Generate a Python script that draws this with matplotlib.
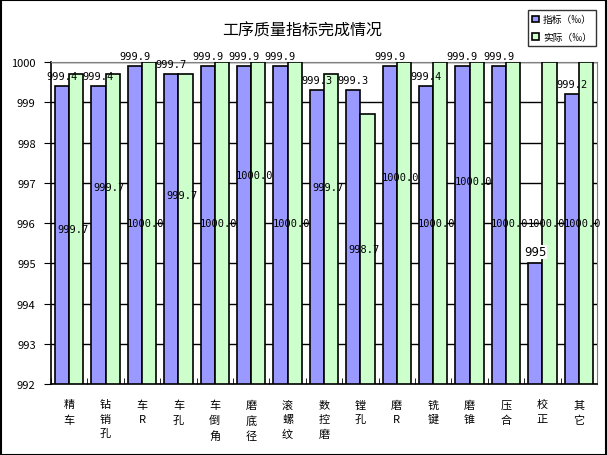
import numpy as np
import matplotlib
matplotlib.use('Agg')
import matplotlib.pyplot as plt
from matplotlib.patches import Rectangle

plt.rcParams['font.family'] = ['Noto Sans CJK SC', 'DejaVu Sans']

# 数据
categories = ['精车', '钻销孔', '车R', '车孔', '车倒角', '磨底径', '滚螺纹', '数控磨',
              '镗孔', '磨R', '铣键', '磨锥', '压合', '校正', '其它']
target = [999.4, 999.4, 999.9, 999.7, 999.9, 999.9, 999.9, 999.3,
          999.3, 999.9, 999.4, 999.9, 999.9, 995, 999.2]
actual = [999.7, 999.7, 1000.0, 999.7, 1000.0, 1000.0, 1000.0, 999.7,
          998.7, 1000.0, 1000.0, 1000.0, 1000.0, 1000.0, 1000.0]
target_labels = ['999.4', '999.4', '999.9', '999.7', '999.9', '999.9', '999.9', '999.3',
                 '999.3', '999.9', '999.4', '999.9', '999.9', '995', '999.2']
actual_labels = ['999.7', '999.7', '1000.0', '999.7', '1000.0', '1000.0', '1000.0', '999.7',
                 '998.7', '1000.0', '1000.0', '1000.0', '1000.0', '1000.0', '1000.0']
# 实际值标签的纵向位置（原图中部分标签被手动移动过）
actual_label_y = [995.85, 996.9, 996.0, 996.7, 996.0, 997.2, 996.0, 996.9,
                  995.35, 997.15, 996.0, 997.05, 996.0, 996.0, 996.0]
legend_names = ['指标（‰）', '实际（‰）']

ymin, ymax = 992, 1000
blue = '#9999FF'
green = '#CCFFCC'

fig = plt.figure(figsize=(6.07, 4.56), dpi=100)
ax = fig.add_axes([0.084, 0.1557, 0.8995, 0.7061])

x = np.arange(len(categories))
w = 0.39
b1 = ax.bar(x - w / 2, np.array(target) - ymin, w, bottom=ymin, color=blue,
            edgecolor='black', linewidth=1.2, zorder=3, label=legend_names[0])
b2 = ax.bar(x + w / 2, np.array(actual) - ymin, w, bottom=ymin, color=green,
            edgecolor='black', linewidth=1.2, zorder=3, label=legend_names[1])

ax.set_xlim(-0.5, len(categories) - 0.5)
ax.set_ylim(ymin, ymax)
ax.set_yticks(range(ymin, ymax + 1))
ax.yaxis.grid(True, color='black', linewidth=1.0, zorder=0)
ax.set_axisbelow(True)

for sp in ['top', 'right']:
    ax.spines[sp].set_color('#808080')
for sp in ['left', 'bottom']:
    ax.spines[sp].set_color('black')
    ax.spines[sp].set_linewidth(1.2)

ax.tick_params(axis='y', direction='out', length=5, labelsize=8, pad=6)
ax.set_xticks(x)
ax.set_xticklabels(['\n'.join(list(c)) for c in categories], fontsize=8, linespacing=1.55,
                   va='top')
ax.tick_params(axis='x', length=0, pad=11)
ax.set_xticks(np.arange(-0.5, len(categories)), minor=True)
ax.tick_params(axis='x', which='minor', direction='in', length=4, color='black')

mono = 'DejaVu Sans Mono'
for i in range(len(categories)):
    if target_labels[i] == '995':
        ax.text(x[i] - w / 2, target[i] + 0.12, target_labels[i], ha='center', va='bottom',
                fontsize=8.5, family='DejaVu Sans', zorder=5, clip_on=False,
                bbox=dict(facecolor='white', edgecolor='none', pad=0.5))
    else:
        ax.text(x[i] - w / 2, target[i] + 0.12, target_labels[i], ha='center', va='bottom',
                fontsize=7.5, family=mono, zorder=5, clip_on=False)
    ax.text(x[i] + 0.1, actual_label_y[i], actual_labels[i], ha='center', va='center',
            fontsize=7.5, family=mono, zorder=5, clip_on=False)

fig.text(0.497, 0.932, '工序质量指标完成情况', ha='center', va='center', fontsize=11.5)

leg = fig.legend(handles=[b1, b2], loc='upper right', bbox_to_anchor=(0.982, 0.976),
                 fontsize=7, frameon=True, fancybox=False, edgecolor='black',
                 handlelength=0.7, handleheight=0.7, handletextpad=0.4,
                 borderpad=0.45, labelspacing=0.75, borderaxespad=0)
leg.get_frame().set_linewidth(1.0)

fig.patches.append(Rectangle((0.001, 0.001), 0.997, 0.997, transform=fig.transFigure,
                             fill=False, edgecolor='black', linewidth=1.5))

fig.savefig('out.png', dpi=100)
